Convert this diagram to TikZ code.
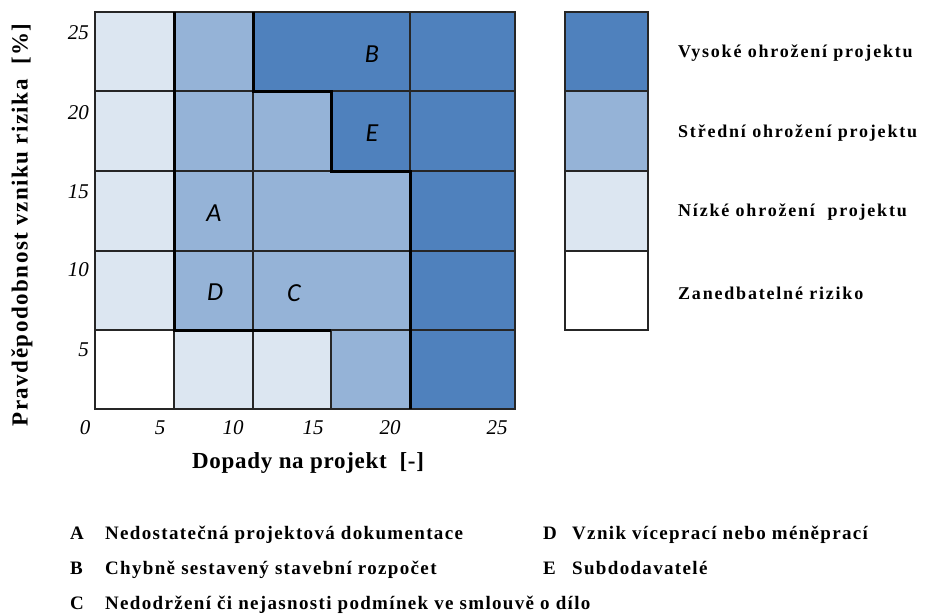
\documentclass[tikz,border=0pt]{standalone}
\usepackage{fontspec}
\setmainfont{Liberation Serif}
\newfontfamily\cellfont{Carlito}
\usepackage{xcolor}
\definecolor{highrisk}{HTML}{4F81BD}
\definecolor{midrisk}{HTML}{95B3D7}
\definecolor{lowrisk}{HTML}{DCE6F1}

\tikzset{
  cell/.style={draw=black!85, line width=1.2pt},
  border/.style={draw=black, line width=3pt},
  ticklabel/.style={inner sep=0pt, font=\fontsize{21}{24}\selectfont\itshape},
  celllabel/.style={inner sep=0pt, font=\fontsize{26}{30}\selectfont\cellfont\itshape},
  axislabel/.style={inner sep=0pt, font=\fontsize{23}{27}\selectfont\bfseries\addfontfeatures{LetterSpace=3}},
  ylabelstyle/.style={inner sep=0pt, font=\fontsize{23}{27}\selectfont\bfseries\addfontfeatures{LetterSpace=6.5}},
  legendtext/.style={anchor=west, inner sep=0pt, font=\fontsize{18}{21}\selectfont\bfseries\addfontfeatures{LetterSpace=10}},
  listtext/.style={anchor=base west, inner sep=0pt, font=\fontsize{19}{22}\selectfont\bfseries\addfontfeatures{LetterSpace=7}}
}

\begin{document}
\begin{tikzpicture}[x=1pt, y=-1pt]
        \useasboundingbox (0,0) rectangle (927,614);

        % First row (25)
        \draw[cell, fill=lowrisk] (95,12) rectangle (174,91);
        \draw[cell, fill=midrisk] (174,12) rectangle (253,91);
        \draw[cell, fill=highrisk] (253,12) rectangle (410,91);
        \draw[cell, fill=highrisk] (410,12) rectangle (515,91);

        % Second row (20)
        \draw[cell, fill=lowrisk] (95,91) rectangle (174,171);
        \draw[cell, fill=midrisk] (174,91) rectangle (253,171);
        \draw[cell, fill=midrisk] (253,91) rectangle (331,171);
        \draw[cell, fill=highrisk] (331,91) rectangle (410,171);
        \draw[cell, fill=highrisk] (410,91) rectangle (515,171);

        % Third row (15)
        \draw[cell, fill=lowrisk] (95,171) rectangle (174,251);
        \draw[cell, fill=midrisk] (174,171) rectangle (253,251);
        \draw[cell, fill=midrisk] (253,171) rectangle (410,251);
        \draw[cell, fill=highrisk] (410,171) rectangle (515,251);

        % Fourth row (10)
        \draw[cell, fill=lowrisk] (95,251) rectangle (174,330);
        \draw[cell, fill=midrisk] (174,251) rectangle (253,330);
        \draw[cell, fill=midrisk] (253,251) rectangle (410,330);
        \draw[cell, fill=highrisk] (410,251) rectangle (515,330);

        % Fifth row (5)
        \draw[cell, fill=white] (95,330) rectangle (174,409);
        \draw[cell, fill=lowrisk] (174,330) rectangle (253,409);
        \draw[cell, fill=lowrisk] (253,330) rectangle (331,409);
        \draw[cell, fill=midrisk] (331,330) rectangle (410,409);
        \draw[cell, fill=highrisk] (410,330) rectangle (515,409);

        % Thick borders between the zones
        \draw[border] (174,12) -- (174,330) -- (331,330);
        \draw[border] (253,12) -- (253,91) -- (331,91) -- (331,171) -- (410,171) -- (410,409);

        % Risks in the cells
        \node[celllabel] (riskB) at (372,54) {B};
        \node[celllabel] (riskE) at (372,133) {E};
        \node[celllabel] (riskA) at (214,213) {A};
        \node[celllabel] (riskD) at (215,292) {D};
        \node[celllabel] (riskC) at (294,293) {C};

        % Probability ticks
        \node[ticklabel, anchor=east] (p25) at (89,33) {25};
        \node[ticklabel, anchor=east] (p20) at (89,113) {20};
        \node[ticklabel, anchor=east] (p15) at (89,192) {15};
        \node[ticklabel, anchor=east] (p10) at (89,270) {10};
        \node[ticklabel, anchor=east] (p5) at (89,350) {5};

        % Impact ticks
        \node[ticklabel] (i0) at (85,428) {0};
        \node[ticklabel] (i5) at (160,428) {5};
        \node[ticklabel] (i10) at (233,428) {10};
        \node[ticklabel] (i15) at (313,428) {15};
        \node[ticklabel] (i20) at (390,428) {20};
        \node[ticklabel] (i25) at (497,428) {25};

        % Axis titles
        \node[ylabelstyle, rotate=90] (ylabel) at (22,225) {Pravděpodobnost vzniku rizika\ \ [\%]};
        \node[axislabel, anchor=west] (xlabel) at (192,463) {Dopady na projekt\ \ [-]};

        % Legend
        \draw[cell, fill=highrisk] (565,12) rectangle (648,91);
        \draw[cell, fill=midrisk] (565,91) rectangle (648,171);
        \draw[cell, fill=lowrisk] (565,171) rectangle (648,251);
        \draw[cell, fill=white] (565,251) rectangle (648,330);
        \node[legendtext] (high) at (678,53) {Vysoké ohrožení projektu};
        \node[legendtext] (mid) at (678,133) {Střední ohrožení projektu};
        \node[legendtext] (low) at (678,212) {Nízké ohrožení\ \ projektu};
        \node[legendtext] (none) at (678,293) {Zanedbatelné riziko};

        % List of risks
        \node[listtext] (keyA) at (70,539) {A};
        \node[listtext] (textA) at (105,539) {Nedostatečná projektová dokumentace};
        \node[listtext] (keyB) at (70,574) {B};
        \node[listtext] (textB) at (105,574) {Chybně sestavený stavební rozpočet};
        \node[listtext] (keyC) at (70,609) {C};
        \node[listtext] (textC) at (105,609) {Nedodržení či nejasnosti podmínek ve smlouvě o dílo};
        \node[listtext] (keyD) at (543,539) {D};
        \node[listtext] (textD) at (572,539) {Vznik víceprací nebo méněprací};
        \node[listtext] (keyE) at (543,574) {E};
        \node[listtext] (textE) at (572,574) {Subdodavatelé};
    \end{tikzpicture}
\end{document}
